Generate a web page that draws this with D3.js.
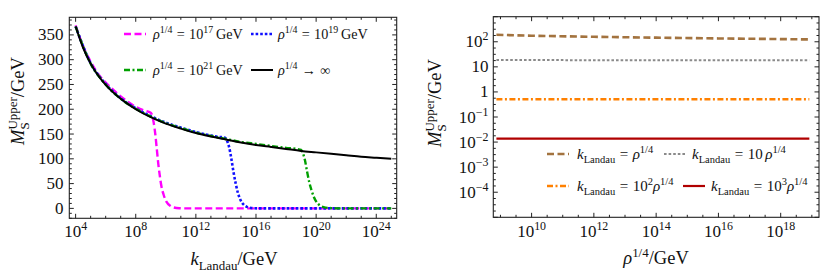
<!DOCTYPE html>
<html><head><meta charset="utf-8">
<script src="https://cdn.jsdelivr.net/npm/d3@7"></script>
<style>body{margin:0;background:#fff} svg{display:block}</style>
</head><body>
<svg id="c" width="830" height="276"></svg>
<script>
// ---------- data (left panel: x = log10 k_Landau / GeV, y = M_S^Upper / GeV) ----------
const kBlack = [4,4.5,5,5.5,6,7,8,9,10,11,12,13,14,15,16,17,18,19,20,21,22,23,24,25];
const mBlack = [367,324,292,268,249,221,200,184,171,161,152,145,139,133,128,124,120,116,113,110,107,104,102,100];

const kMagenta = [4,4.5,5,5.5,6,7,8,8.5,9,9.1,9.2,9.3,9.4,9.5,9.6,9.7,9.85,10.05,10.3,10.5,10.9,11.5,13,16,19,22,25];
const mMagenta = [369,327,296,271,254,226,205,198,193,187,172,150,120,90,66,46,28,13,5,2,0.3,0,0,0,0,0,0];

const kBlue = [4,5,6,7,8,9,10,11,12,13,13.6,13.9,14.05,14.2,14.35,14.5,14.65,14.8,15,15.2,15.4,15.8,16.3,19,22,25];
const mBlue = [367,293,251,222,202,186,173,163,154,147,144,143,138,125,102,74,50,31,15,7,3,0.5,0,0,0,0];

const kGreen = [4,5,6,7,8,9,10,11,12,13,14,15,16,17,18,18.7,19.0,19.1,19.25,19.4,19.55,19.7,19.85,20,20.25,20.5,21,21.5,23,25];
const mGreen = [367,292,250,221,201,185,172,162,153,146,140,134,130,126,122,120,118,113,98,74,52,36,23,14,6,2.5,0.5,0,0,0];

// ---------- data (right panel: x = log10 rho^{1/4} / GeV) ----------
const rhoExp = [8.87,10,12,14,16,18,18.92];
const mBrown = [190,175,158,146,136,128,124];
const mGray = [18.6,18.6,18.5,18.5,18.4,18.4,18.4];
const mOrange = [0.51,0.51,0.51,0.51,0.51,0.51,0.51];
const mRed = [0.0137,0.0137,0.0137,0.0137,0.0137,0.0137,0.0137];

// tick labels
const xTicksL = [4,8,12,16,20,24];
const yTicksL = [0,50,100,150,200,250,300,350];
const xTicksR = [10,12,14,16,18];
const yTicksR = [2,1,0,-1,-2,-3,-4];

// ---------- drawing ----------
const FONT = "'Liberation Serif','Times New Roman',serif";
const svg = d3.select("#c").attr("font-family", FONT);

function mathText(parent, x, y, segs, size, anchor, rot) {
  const g = parent.append("g");
  let cx = 0, prevX = 0, prevW = 0;
  segs.forEach(s => {
    const fs = s.s ? size * 0.7 : size;
    const dy = s.s === "sup" ? -size * 0.4 : s.s === "sub" ? size * 0.25 : 0;
    if (s.pl) cx += s.pl * size;
    let sx = s.stack ? prevX : cx;
    const t = g.append("text").attr("x", sx).attr("y", dy)
      .attr("font-size", fs).attr("font-style", s.i ? "italic" : "normal")
      .attr("fill", "#111").text(s.t);
    const w = t.node().getComputedTextLength();
    if (s.stack) { cx = prevX + Math.max(prevW, w); }
    else { prevX = sx; prevW = w; cx = sx + w; }
    if (s.pr) cx += s.pr * size;
  });
  const total = cx;
  const off = anchor === "middle" ? -total / 2 : anchor === "end" ? -total : 0;
  if (rot) g.attr("transform", `translate(${x},${y}) rotate(-90) translate(${off},0)`);
  else g.attr("transform", `translate(${x + off},${y})`);
  return g;
}
const pow10 = (e) => e === 0 ? [{t:"1"}] : e === 1 ? [{t:"10"}] : [{t:"10"},{t: e < 0 ? "\u2212" + (-e) : String(e), s:"sup"}];

function frame(g, x0, x1, y0, y1) {
  g.append("rect").attr("x", x0).attr("y", y0).attr("width", x1 - x0).attr("height", y1 - y0)
    .attr("fill", "none").attr("stroke", "#222").attr("stroke-width", 1.1);
}
function ticksX(g, xs, xscale, y0, y1, len) {
  xs.forEach(v => {
    const x = xscale(v);
    g.append("line").attr("x1", x).attr("x2", x).attr("y1", y1).attr("y2", y1 - len).attr("stroke", "#222");
    g.append("line").attr("x1", x).attr("x2", x).attr("y1", y0).attr("y2", y0 + len).attr("stroke", "#222");
  });
}
function ticksY(g, ys, yscale, x0, x1, len) {
  ys.forEach(v => {
    const y = yscale(v);
    g.append("line").attr("y1", y).attr("y2", y).attr("x1", x0).attr("x2", x0 + len).attr("stroke", "#222");
    g.append("line").attr("y1", y).attr("y2", y).attr("x1", x1).attr("x2", x1 - len).attr("stroke", "#222");
  });
}

const TICK_FS = 17, LEG_FS_L = 14.2, LEG_FS_R = 15, TITLE_FS = 18.5;

// ===== Left panel =====
const L = {x0: 69.3, x1: 396.7, y0: 17.3, y1: 218.3};
const xL = d3.scaleLog().domain([10 ** 3.58, 10 ** 25.36]).range([L.x0, L.x1]);
const yL = d3.scaleLinear().domain([-20, 385.5]).range([L.y1, L.y0]);
const gL = svg.append("g");
svg.append("clipPath").attr("id", "clipL").append("rect")
  .attr("x", L.x0).attr("y", L.y0).attr("width", L.x1 - L.x0).attr("height", L.y1 - L.y0);

const minorXL = d3.range(4, 26).filter(v => !xTicksL.includes(v)).map(v => 10 ** v);
ticksX(gL, minorXL, xL, L.y0, L.y1, 2.5);
ticksX(gL, xTicksL.map(v => 10 ** v), xL, L.y0, L.y1, 4.5);
const minorYL = d3.range(-20, 390, 10).filter(v => v % 50 !== 0);
ticksY(gL, minorYL, yL, L.x0, L.x1, 2.5);
ticksY(gL, yTicksL, yL, L.x0, L.x1, 4.5);

const lineL = d3.line().x(d => xL(10 ** d[0])).y(d => yL(d[1])).curve(d3.curveMonotoneX);
const curves = gL.append("g").attr("clip-path", "url(#clipL)").attr("fill", "none");
const seriesL = [
  {k: kMagenta, m: mMagenta, c: "#ff00ff", dash: "7,3.5", w: 2.4},
  {k: kBlue, m: mBlue, c: "#1010ff", dash: "2.6,2", w: 2.6},
  {k: kGreen, m: mGreen, c: "#00a000", dash: "6,2.5,2,2.5", w: 2.4},
  {k: kBlack, m: mBlack, c: "#000000", dash: null, w: 2}
];
seriesL.forEach(s => {
  curves.append("path").datum(s.k.map((k, i) => [k, s.m[i]]))
    .attr("d", lineL).attr("stroke", s.c).attr("stroke-width", s.w)
    .attr("stroke-dasharray", s.dash);
});
frame(gL, L.x0, L.x1, L.y0, L.y1);

// tick labels left
xTicksL.forEach(e => mathText(gL, xL(10 ** e), 237, pow10(e), TICK_FS, "middle"));
yTicksL.forEach(v => mathText(gL, 63.5, yL(v) + 5.5, [{t: String(v)}], TICK_FS, "end"));
// axis titles left
mathText(gL, 234, 265, [{t:"k",i:1},{t:"Landau",s:"sub"},{t:"/GeV"}], TITLE_FS, "middle");
mathText(gL, 24, 101, [{t:"M",i:1},{t:"S",s:"sub"},{t:"Upper",s:"sup",stack:1},{t:"/GeV"}], TITLE_FS, "middle", true);

// legend left
const legL = [
  {x: 124, tx: 153, y: 34, s: seriesL[0], txt: [{t:"\u03c1",i:1},{t:"1/4",s:"sup"},{t:"=",pl:.3,pr:.3},{t:"10"},{t:"17",s:"sup"},{t:"GeV",pl:.2}]},
  {x: 251, tx: 278, y: 34, s: seriesL[1], txt: [{t:"\u03c1",i:1},{t:"1/4",s:"sup"},{t:"=",pl:.3,pr:.3},{t:"10"},{t:"19",s:"sup"},{t:"GeV",pl:.2}]},
  {x: 124, tx: 153, y: 70, s: seriesL[2], txt: [{t:"\u03c1",i:1},{t:"1/4",s:"sup"},{t:"=",pl:.3,pr:.3},{t:"10"},{t:"21",s:"sup"},{t:"GeV",pl:.2}]},
  {x: 251, tx: 278, y: 70, s: seriesL[3], txt: [{t:"\u03c1",i:1},{t:"1/4",s:"sup"},{t:"\u2192",pl:.3,pr:.3},{t:"\u221e"}]}
];
legL.forEach(l => {
  gL.append("line").attr("x1", l.x).attr("x2", l.x + 22).attr("y1", l.y).attr("y2", l.y)
    .attr("stroke", l.s.c).attr("stroke-width", l.s.w).attr("stroke-dasharray", l.s.dash);
  mathText(gL, l.tx, l.y + 5, l.txt, LEG_FS_L, "start");
});

// ===== Right panel =====
const R = {x0: 493.3, x1: 819, y0: 16.7, y1: 217.3};
const xR = d3.scaleLog().domain([10 ** 8.77, 10 ** 19.23]).range([R.x0, R.x1]);
const yR = d3.scaleLog().domain([1e-5, 1e3]).range([R.y1, R.y0]);
const gR = svg.append("g");
svg.append("clipPath").attr("id", "clipR").append("rect")
  .attr("x", R.x0).attr("y", R.y0).attr("width", R.x1 - R.x0).attr("height", R.y1 - R.y0);

const minorXR = d3.range(9, 19.01, 0.5).filter(v => !xTicksR.includes(v)).map(v => 10 ** v);
ticksX(gR, minorXR, xR, R.y0, R.y1, 2.5);
ticksX(gR, xTicksR.map(v => 10 ** v), xR, R.y0, R.y1, 4.5);
const minorYR = d3.range(-5, 3.01, 0.25).filter(v => Math.abs(v - Math.round(v)) > 0.01).map(v => 10 ** v);
ticksY(gR, minorYR, yR, R.x0, R.x1, 2.5);
ticksY(gR, d3.range(-5, 4).map(v => 10 ** v), yR, R.x0, R.x1, 4.5);

const lineR = d3.line().x(d => xR(10 ** d[0])).y(d => yR(d[1])).curve(d3.curveMonotoneX);
const curvesR = gR.append("g").attr("clip-path", "url(#clipR)").attr("fill", "none");
const seriesR = [
  {m: mBrown, c: "#a3733f", dash: "7,3.5", w: 2.6},
  {m: mGray, c: "#8a8a8a", dash: "2.6,2", w: 2},
  {m: mOrange, c: "#ff8000", dash: "6,2.5,2,2.5", w: 2.6},
  {m: mRed, c: "#b00000", dash: null, w: 2.2}
];
seriesR.forEach(s => {
  curvesR.append("path").datum(rhoExp.map((r, i) => [r, s.m[i]]))
    .attr("d", lineR).attr("stroke", s.c).attr("stroke-width", s.w)
    .attr("stroke-dasharray", s.dash);
});
frame(gR, R.x0, R.x1, R.y0, R.y1);

xTicksR.forEach(e => mathText(gR, xR(10 ** e), 237, pow10(e), TICK_FS, "middle"));
yTicksR.forEach(e => mathText(gR, 488.5, yR(10 ** e) + 5.5, pow10(e), TICK_FS, "end"));
mathText(gR, 656, 264, [{t:"\u03c1",i:1},{t:"1/4",s:"sup"},{t:"/GeV"}], TITLE_FS, "middle");
mathText(gR, 441, 103, [{t:"M",i:1},{t:"S",s:"sub"},{t:"Upper",s:"sup",stack:1},{t:"/GeV"}], TITLE_FS, "middle", true);

const kl = [{t:"k",i:1},{t:"Landau",s:"sub"},{t:"=",pl:.3,pr:.3}];
const legR = [
  {x: 547, tx: 577, y: 154, s: seriesR[0], txt: kl.concat([{t:"\u03c1",i:1},{t:"1/4",s:"sup"}])},
  {x: 664, tx: 692, y: 154, s: seriesR[1], txt: kl.concat([{t:"10"},{t:"\u03c1",i:1,pl:.17},{t:"1/4",s:"sup"}])},
  {x: 547, tx: 577, y: 186, s: seriesR[2], txt: kl.concat([{t:"10"},{t:"2",s:"sup"},{t:"\u03c1",i:1},{t:"1/4",s:"sup"}])},
  {x: 683, tx: 711, y: 186, s: seriesR[3], txt: kl.concat([{t:"10"},{t:"3",s:"sup"},{t:"\u03c1",i:1},{t:"1/4",s:"sup"}])}
];
legR.forEach(l => {
  gR.append("line").attr("x1", l.x).attr("x2", l.x + 22).attr("y1", l.y).attr("y2", l.y)
    .attr("stroke", l.s.c).attr("stroke-width", l.s.w).attr("stroke-dasharray", l.s.dash);
  mathText(gR, l.tx, l.y + 5, l.txt, LEG_FS_R, "start");
});
</script>
</body></html>
